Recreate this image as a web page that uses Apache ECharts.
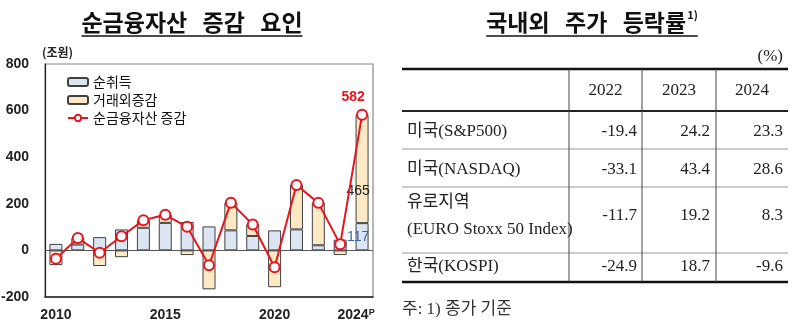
<!DOCTYPE html>
<html><head><meta charset="utf-8">
<script src="https://cdn.jsdelivr.net/npm/echarts/dist/echarts.min.js"></script>
<style>html,body{margin:0;padding:0;background:#fff}#c{width:800px;height:333px}</style>
</head><body><div id="c"></div>
<script>
// ---- chart data ----
const years = ['2010','2011','2012','2013','2014','2015','2016','2017','2018','2019','2020','2021','2022','2023','2024'];
const xLabelYears = ['2010','2015','2020','2024'];
const netAcquisition = [28,25,57,90,97,118,122,103,86,62,86,90,22,46,117];
const nonTransaction = [-63,28,-67,-29,33,36,-20,-167,119,50,-158,192,182,-20,465];
const netAssetChange = [-36,53,-10,61,129,153,101,-64,205,111,-72,281,204,26,582];
const yTicks = [-200,0,200,400,600,800];
const seriesNames = ['순취득','거래외증감','순금융자산 증감'];

// ---- table data ----
const tableCols = ['2022','2023','2024'];
const tableRowLabels = ['미국(S&P500)','미국(NASDAQ)','유로지역\n(EURO Stoxx 50 Index)','한국(KOSPI)'];
const sp500 = [-19.4,24.2,23.3];
const nasdaq = [-33.1,43.4,28.6];
const euroStoxx = [-11.7,19.2,8.3];
const kospi = [-24.9,18.7,-9.6];

const KR = "'Noto Sans CJK KR','Noto Sans',sans-serif";
const SERIF = "'Liberation Serif','Noto Sans CJK KR',serif";
const AX = "'Liberation Sans',Arial,sans-serif";

function measure(text, font){ const c=document.createElement('canvas').getContext('2d'); c.font=font; return c.measureText(text).width; }

const chart = echarts.init(document.getElementById('c'));
const n = years.length;

const barBlue = netAcquisition.map((v,i)=> i===n-1 ? {value:v, label:{show:true, position:'inside', offset:[-4,0], color:'#3a64a8', fontSize:14, fontFamily:AX}} : v);
const barBeige = nonTransaction.map((v,i)=> i===n-1 ? {value:v, label:{show:true, position:'insideBottom', distance:25, offset:[-4,0], color:'#222', fontSize:14, fontFamily:AX}} : v);
const lineData = netAssetChange.map((v,i)=> i===n-1 ? {value:v, label:{show:true, position:'top', distance:5, offset:[-9,0], color:'#e8141e', fontSize:14, fontWeight:'bold', fontFamily:AX}} : v);

// ---- graphics: titles + table ----
const g = [];
const SP = '\u2002\u2006';
const titleFont = "bold 23px 'Noto Sans CJK KR'";
const t1 = '순금융자산'+SP+'증감'+SP+'요인';
const w1 = measure(t1, titleFont);
g.push({type:'text', style:{x:192, y:22, text:t1, font:titleFont, fill:'#111', align:'center', verticalAlign:'middle'}});
g.push({type:'line', shape:{x1:192-w1/2, y1:36, x2:192+w1/2, y2:36}, style:{stroke:'#111', lineWidth:1.5}});

const t2 = '국내외'+SP+'주가'+SP+'등락률';
const w2 = measure(t2, titleFont);
const supFont = "bold 11px 'Noto Sans CJK KR'";
const ws = measure('1)', supFont);
const t2left = 592 - (w2+ws+1)/2;
g.push({type:'text', style:{x:t2left, y:22, text:t2, font:titleFont, fill:'#111', align:'left', verticalAlign:'middle'}});
g.push({type:'text', style:{x:t2left+w2+1, y:15, text:'1)', font:supFont, fill:'#111', align:'left', verticalAlign:'middle'}});
g.push({type:'line', shape:{x1:t2left, y1:36, x2:t2left+w2+ws+1, y2:36}, style:{stroke:'#111', lineWidth:1.5}});

g.push({type:'text', style:{x:42, y:52, text:'(조원)', font:"bold 12px 'Noto Sans CJK KR'", fill:'#222', align:'left', verticalAlign:'middle'}});

const tL = 402, tR = 788;
const colLines = [569, 642, 716];
const colRight = [637, 710, 783];
const cellFont = "17px " + SERIF;
g.push({type:'text', style:{x:783, y:57, text:'(%)', font:cellFont, fill:'#222', align:'right', verticalAlign:'middle'}});
const hLines = [[69,2.5,'#111'],[111,1.8,'#222'],[149,1,'#999'],[187,1,'#999'],[253,1,'#999'],[282,2.5,'#111']];
hLines.forEach(([y,w,c])=>g.push({type:'line', shape:{x1:tL,y1:y,x2:tR,y2:y}, style:{stroke:c, lineWidth:w}}));
colLines.forEach(x=>g.push({type:'line', shape:{x1:x,y1:69,x2:x,y2:282}, style:{stroke:'#444', lineWidth:1}}));
const colCenters = [605.5, 679, 752];
tableCols.forEach((c,i)=>g.push({type:'text', style:{x:colCenters[i], y:91, text:c, font:cellFont, fill:'#222', align:'center', verticalAlign:'middle'}}));
const rowY = [132, 170, 216, 267];
const rowVals = [sp500, nasdaq, euroStoxx, kospi];
tableRowLabels.forEach((lab,r)=>{
  g.push({type:'text', style:{x:407, y:rowY[r], text:lab, font:cellFont, lineHeight:27, fill:'#222', align:'left', verticalAlign:'middle'}});
  rowVals[r].forEach((v,c)=>g.push({type:'text', style:{x:colRight[c], y:rowY[r], text:v.toFixed(1), font:cellFont, fill:'#222', align:'right', verticalAlign:'middle'}}));
});
g.push({type:'text', style:{x:402, y:310, text:'주: 1) 종가 기준', font:cellFont, fill:'#333', align:'left', verticalAlign:'middle'}});

chart.setOption({
  animation:false,
  backgroundColor:'#fff',
  grid:{left:45, top:64, right:427, bottom:36, show:true, borderColor:'#888', borderWidth:1.2, outerBoundsMode:'none'},
  legend:{orient:'vertical', left:67, top:75, padding:0, itemWidth:20, itemHeight:8, itemGap:4, selectedMode:false,
    textStyle:{fontSize:14, color:'#111', fontFamily:KR}, data:seriesNames},
  xAxis:{type:'category', data:years, axisTick:{show:false},
    axisLine:{onZero:false, lineStyle:{color:'#222', width:1.5}},
    axisLabel:{interval:0, margin:11, fontFamily:AX, fontWeight:'bold', fontSize:14, color:'#222',
      formatter:(v)=> xLabelYears.indexOf(v)<0 ? '' : (v===years[n-1] ? '{a|'+v+'}{p|P}' : v),
      rich:{a:{fontFamily:AX, fontWeight:'bold', fontSize:14, color:'#222'}, p:{fontFamily:AX, fontWeight:'bold', fontSize:9, color:'#222', padding:[0,12,4,0]}}}},
  yAxis:{type:'value', min:-200, max:800, interval:200, splitLine:{show:false},
    axisLine:{show:true, lineStyle:{color:'#222', width:1.2}}, axisTick:{show:false},
    axisLabel:{margin:16, fontFamily:AX, fontWeight:'bold', fontSize:14, color:'#222',
      formatter:(v)=> yTicks.indexOf(v)>=0 ? String(v) : ''}},
  series:[
    {name:seriesNames[0], type:'bar', stack:'s', barWidth:13, data:barBlue,
      itemStyle:{color:'#dce6f2', borderColor:'#404040', borderWidth:1},
      markLine:{silent:true, symbol:'none', label:{show:false}, data:[{yAxis:0}], lineStyle:{color:'#555', width:1.2, type:'solid'}}},
    {name:seriesNames[1], type:'bar', stack:'s', barWidth:13, data:barBeige,
      itemStyle:{color:'#fde9c4', borderColor:'#404040', borderWidth:1}},
    {name:seriesNames[2], type:'line', data:lineData, z:5, symbol:'circle', symbolSize:10,
      lineStyle:{color:'#e8141e', width:2}, itemStyle:{color:'#fff', borderColor:'#e8141e', borderWidth:2}}
  ],
  graphic:g
});
</script></body></html>
